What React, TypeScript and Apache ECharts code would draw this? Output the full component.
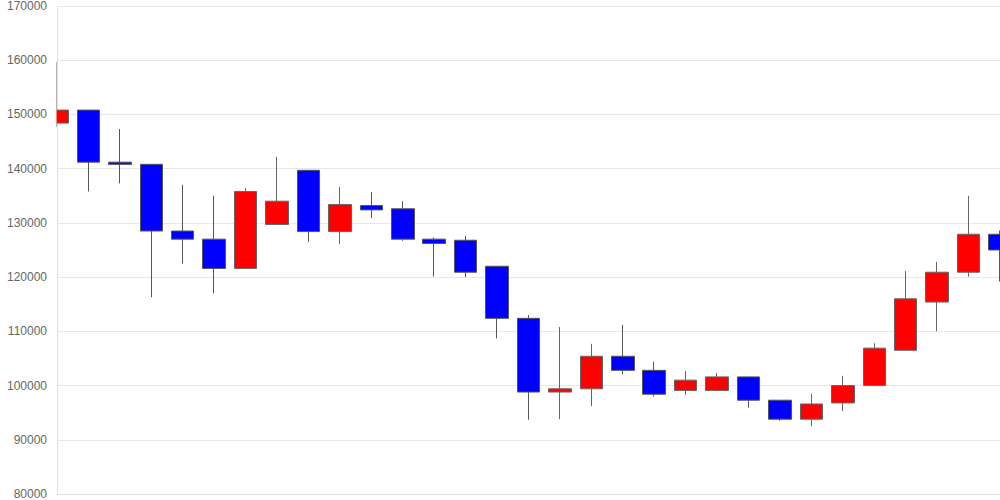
import React, { useEffect, useRef } from "react";
import * as echarts from "echarts";

const categories = [
  "1","2","3","4","5","6","7","8","9","10","11","12","13","14","15","16",
  "17","18","19","20","21","22","23","24","25","26","27","28","29","30","31",
];
// [open, close, low, high]
const openValues = [148400,150800,141200,140800,128500,127000,121600,129700,139700,128400,133200,132600,127000,126800,122000,112400,98800,99400,105400,102800,99100,99100,101600,97300,93800,96800,100000,106500,115400,120900,127900];
const closeValues = [150800,141200,140800,128500,127000,121600,135800,134000,128400,133400,132400,127000,126200,120900,112400,98800,99400,105400,102800,98400,101000,101600,97300,93800,96600,100000,106900,116000,120900,127900,125000];
const lowValues = [147700,135800,137300,116300,122500,117000,121600,129700,126500,126100,130900,126700,120100,120000,108700,93700,93800,96200,102100,98000,98300,99100,95900,93500,92500,95300,100000,106500,110000,120100,119200];
const highValues = [159700,150800,147300,140800,137000,135000,136400,142200,139700,136600,135700,134000,127300,127600,122000,113000,110800,107700,111200,104400,102700,102300,101600,97300,98500,101800,107800,121100,122800,135000,128600];
const yTicks = { min: 80000, max: 170000, interval: 10000 };

export default function App() {
  const ref = useRef<HTMLDivElement>(null);
  useEffect(() => {
    document.body.style.margin = "0";
    if (!ref.current) return;
    const chart = echarts.init(ref.current, undefined, { renderer: "svg" });
    const data = categories.map((_, i) => [openValues[i], closeValues[i], lowValues[i], highValues[i]]);
    chart.setOption({
      animation: false,
      grid: { left: 57, right: 0, top: 6, bottom: 6 },
      graphic: [
        {
          type: "rect",
          z: 5,
          silent: true,
          shape: { x: 0, y: 0, width: 56.5, height: 500 },
          style: { fill: "#fff" },
        },
      ],
      xAxis: {
        type: "category",
        data: categories,
        boundaryGap: false,
        z: 0,
        axisLine: { show: true, lineStyle: { color: "#e0e0e0" } },
        axisTick: { show: false },
        axisLabel: { show: false },
        splitLine: { show: false },
      },
      yAxis: [
        {
          type: "value",
          min: yTicks.min,
          max: yTicks.max,
          interval: yTicks.interval,
          position: "left",
          offset: 0,
          z: 0,
          axisLine: { show: true, lineStyle: { color: "#e0e0e0" } },
          axisTick: { show: false },
          axisLabel: { show: false },
          splitLine: { show: true, lineStyle: { color: "#e8e8e8" } },
        },
        {
          type: "value",
          min: yTicks.min,
          max: yTicks.max,
          interval: yTicks.interval,
          position: "left",
          offset: 0,
          z: 10,
          axisLine: { show: false },
          axisTick: { show: false },
          axisLabel: {
            color: "#666",
            fontSize: 12,
            fontFamily: "Liberation Sans, Arial, sans-serif",
            margin: 10,
            formatter: (v: number) => String(v),
          },
          splitLine: { show: false },
        },
      ],
      series: [
        {
          type: "candlestick",
          data,
          yAxisIndex: 0,
          barWidth: 23,
          z: 2,
          itemStyle: {
            color: "#ff0000",
            color0: "#0000ff",
            borderColor: "#666",
            borderColor0: "#555",
            borderWidth: 1,
          },
        },
      ],
    });
    return () => chart.dispose();
  }, []);
  return <div ref={ref} style={{ width: 1000, height: 500 }} />;
}
